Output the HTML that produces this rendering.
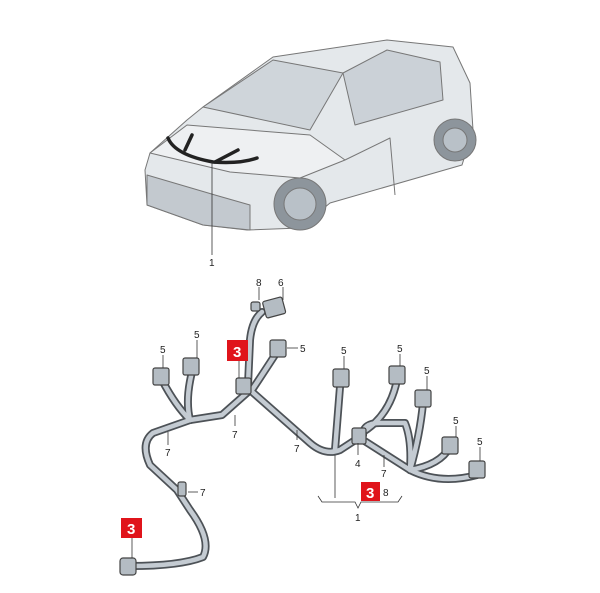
<!DOCTYPE html>
<html><head><style>
html,body{margin:0;padding:0;background:#fff;}
svg{display:block;}
text{font-family:"Liberation Sans",sans-serif;font-size:10px;fill:#222;}
.r{fill:#fff;font-size:15px;font-weight:bold;}
</style></head><body>
<svg width="600" height="593" viewBox="0 0 600 593">
<!-- car -->
<g stroke="#777" stroke-width="1" stroke-linejoin="round">
<path d="M273,57 L387,40 L453,47 L470,83 L473,130 L462,165 L330,203 L300,228 L247,230 L203,225 L147,205 L145,170 L150,153 L187,120 L203,107 Z" fill="#e4e8eb"/>
<path d="M203,107 L273,60 L343,73 L310,130 Z" fill="#cfd5da"/>
<path d="M343,73 L387,50 L440,62 L443,100 L355,125 Z" fill="#cbd1d7"/>
<path d="M150,153 L187,125 L310,135 L345,160 L300,178 L230,172 Z" fill="#eef0f2"/>
<path d="M147,175 L215,195 L250,205 L250,230 L203,225 L147,205 Z" fill="#c3c9cf"/>
<circle cx="300" cy="204" r="26" fill="#8d959c"/>
<circle cx="300" cy="204" r="16" fill="#b9c1c8"/>
<circle cx="455" cy="140" r="21" fill="#8d959c"/>
<circle cx="455" cy="140" r="12" fill="#b9c1c8"/>
<path d="M345,160 L390,138 L395,195" fill="none"/>
</g>
<g fill="none" stroke="#222" stroke-width="3.5" stroke-linecap="round">
<path d="M168,138 Q175,155 213,162 Q240,164 257,158"/>
<path d="M192,135 L185,150"/>
<path d="M238,150 L215,162"/>
</g>
<line x1="212" y1="162" x2="212" y2="255" stroke="#333" stroke-width="0.8"/>
<text x="209" y="266">1</text>

<!-- harness -->
<g fill="none" stroke-linecap="round" stroke-linejoin="round">
<g stroke="#4d5257" stroke-width="8">
<path d="M262,312 Q252,320 250,340 L248,385"/>
<path d="M248,392 L222,415 L190,420"/>
<path d="M190,420 Q175,405 162,380"/>
<path d="M190,420 Q185,400 192,372"/>
<path d="M190,420 L153,433 Q140,443 150,465 L177,490 L190,510 Q212,540 203,557 Q180,566 130,566"/>
<path d="M252,390 Q262,375 275,355"/>
<path d="M250,390 L310,443 Q325,456 340,450 L363,435"/>
<path d="M335,450 L340,387"/>
<path d="M363,432 Q390,415 397,380"/>
<path d="M363,435 Q363,423 380,423 L405,423 Q412,440 410,470"/>
<path d="M410,470 Q420,435 423,403"/>
<path d="M410,470 Q440,465 450,447"/>
<path d="M363,440 L410,470 Q440,485 477,475"/>
</g>
<g stroke="#c4cbd2" stroke-width="4.5">
<path d="M262,312 Q252,320 250,340 L248,385"/>
<path d="M248,392 L222,415 L190,420"/>
<path d="M190,420 Q175,405 162,380"/>
<path d="M190,420 Q185,400 192,372"/>
<path d="M190,420 L153,433 Q140,443 150,465 L177,490 L190,510 Q212,540 203,557 Q180,566 130,566"/>
<path d="M252,390 Q262,375 275,355"/>
<path d="M250,390 L310,443 Q325,456 340,450 L363,435"/>
<path d="M335,450 L340,387"/>
<path d="M363,432 Q390,415 397,380"/>
<path d="M363,435 Q363,423 380,423 L405,423 Q412,440 410,470"/>
<path d="M410,470 Q420,435 423,403"/>
<path d="M410,470 Q440,465 450,447"/>
<path d="M363,440 L410,470 Q440,485 477,475"/>
</g>
</g>
<!-- connectors -->
<g fill="#b4bcc3" stroke="#444" stroke-width="1.2">
<rect x="264" y="299" width="20" height="17" rx="2" transform="rotate(-15 274 307)"/>
<rect x="251" y="302" width="9" height="9" rx="2"/>
<rect x="236" y="378" width="15" height="16" rx="2"/>
<rect x="352" y="428" width="14" height="16" rx="2"/>
<rect x="120" y="558" width="16" height="17" rx="3"/>
<rect x="153" y="368" width="16" height="17" rx="2"/>
<rect x="183" y="358" width="16" height="17" rx="2"/>
<rect x="270" y="340" width="16" height="17" rx="2"/>
<rect x="333" y="369" width="16" height="18" rx="2"/>
<rect x="389" y="366" width="16" height="18" rx="2"/>
<rect x="415" y="390" width="16" height="17" rx="2"/>
<rect x="442" y="437" width="16" height="17" rx="2"/>
<rect x="469" y="461" width="16" height="17" rx="2"/>
<rect x="178" y="482" width="8" height="14" rx="2"/>
</g>
<!-- leaders -->
<g stroke="#333" stroke-width="0.8" fill="none">
<line x1="259" y1="287" x2="259" y2="300"/><line x1="283" y1="287" x2="283" y2="300"/>
<line x1="197" y1="340" x2="197" y2="358"/><line x1="163" y1="355" x2="163" y2="368"/>
<line x1="287" y1="348" x2="298" y2="348"/>
<line x1="344" y1="356" x2="344" y2="369"/><line x1="400" y1="354" x2="400" y2="366"/>
<line x1="427" y1="376" x2="427" y2="390"/><line x1="456" y1="426" x2="456" y2="437"/>
<line x1="480" y1="447" x2="480" y2="461"/>
<line x1="239" y1="361" x2="239" y2="378"/><line x1="132" y1="538" x2="132" y2="558"/>
<line x1="235" y1="415" x2="235" y2="426"/><line x1="297" y1="430" x2="297" y2="440"/>
<line x1="168" y1="432" x2="168" y2="445"/><line x1="188" y1="492" x2="198" y2="492"/>
<line x1="358" y1="443" x2="358" y2="455"/><line x1="384" y1="455" x2="384" y2="467"/>
<line x1="335" y1="455" x2="335" y2="498"/>
<path d="M318,496 L322,502 L355,502 L358,508 L361,502 L398,502 L402,496"/>
</g>
<g>
<text x="256" y="286">8</text><text x="278" y="286">6</text>
<text x="194" y="338">5</text><text x="160" y="353">5</text>
<text x="300" y="352">5</text><text x="341" y="354">5</text>
<text x="397" y="352">5</text><text x="424" y="374">5</text>
<text x="453" y="424">5</text><text x="477" y="445">5</text>
<text x="232" y="438">7</text><text x="294" y="452">7</text>
<text x="165" y="456">7</text><text x="200" y="496">7</text>
<text x="355" y="467">4</text><text x="383" y="496">8</text>
<text x="381" y="477">7</text>
<text x="355" y="521">1</text>
</g>
<g fill="#e0141b">
<rect x="227" y="340" width="21" height="21"/>
<rect x="361" y="482" width="19" height="19"/>
<rect x="121" y="518" width="21" height="20"/>
</g>
<text class="r" x="233" y="357">3</text>
<text class="r" x="366" y="498">3</text>
<text class="r" x="127" y="534">3</text>
</svg>
</body></html>
